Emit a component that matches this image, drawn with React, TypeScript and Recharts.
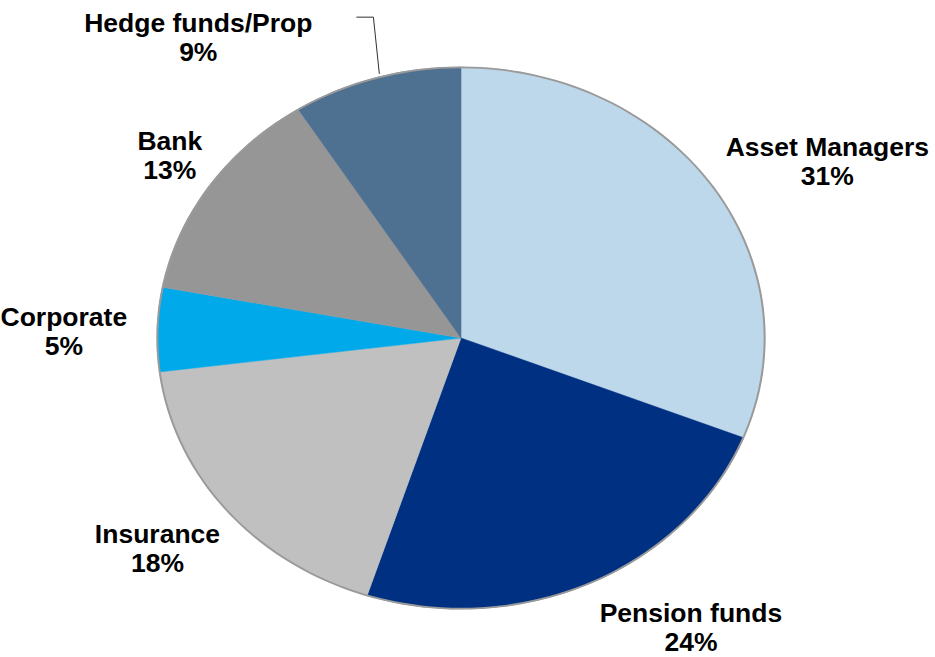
import { PieChart, Pie, Cell } from "recharts";

const categories = [
    "Asset Managers",
    "Pension funds",
    "Insurance",
    "Corporate",
    "Bank",
    "Hedge funds/Prop",
];
const shares = [31, 24, 18, 5, 13, 9];
const colors = ["#BDD7EB", "#003082", "#C0C0C0", "#00A9EA", "#969696", "#4E7091"];

const chartData = categories.map((name, i) => ({
    name,
    value: shares[i],
    color: colors[i],
}));

// pie geometry (excel draws it as an ellipse, we stretch the circle in x)
const CX = 461;
const CY = 338;
const RY = 271;
const RX = 304;
const SCALE_X = RX / RY;

const FONT = "'Liberation Sans', Arial, sans-serif";
const FONT_SIZE = 26.5;
const LINE_GAP = 29;

// hand tweaks so labels land where excel put them
const nudges: [number, number][] = [
    [5, -5],
    [5, 12],
    [1, 15],
    [-20, 3],
    [1, -11],
    [-61, -7],
];

let ctx: CanvasRenderingContext2D | null = null;
function textWidth(s: string) {
    if (!ctx) ctx = document.createElement("canvas").getContext("2d");
    if (!ctx) return s.length * 15;
    ctx.font = `bold ${FONT_SIZE}px ${FONT}`;
    return ctx.measureText(s).width;
}

const renderLabel = (props: any) => {
    const { midAngle, index, name, value } = props;
    const rad = (midAngle * Math.PI) / 180;
    const cos = Math.cos(rad);
    const sin = Math.sin(rad);
    const gap = 10;
    const pct = `${value}%`;
    const halfW = Math.max(textWidth(name), textWidth(pct)) / 2;
    const x = CX + (RX + gap) * cos + Math.sign(cos) * halfW + nudges[index][0];
    const y = CY - (RY + gap) * sin - sin * 25 + nudges[index][1];
    const base = y - 5;

    let leader = null;
    if (index === categories.length - 1) {
        // leader line for the small top slice
        const ex = CX + (RX + 3) * cos + 4;
        const ey = CY - (RY + 3) * sin - 1;
        const ly = y - 20;
        const lx1 = x + halfW + 44;
        const lx2 = x + halfW + 61;
        leader = (
            <polyline
                points={`${lx1},${ly} ${lx2},${ly} ${ex},${ey}`}
                fill="none"
                stroke="#303030"
                strokeWidth={1}
            />
        );
    }

    return (
        <g key={`lbl-${index}`}>
            {leader}
            <text
                x={x}
                y={base}
                textAnchor="middle"
                fontFamily={FONT}
                fontWeight="bold"
                fontSize={FONT_SIZE}
                fill="#000"
            >
                <tspan x={x} y={base}>
                    {name}
                </tspan>
                <tspan x={x} y={base + LINE_GAP}>
                    {pct}
                </tspan>
            </text>
        </g>
    );
};

export default function App() {
    return (
        <div style={{ position: "absolute", left: 0, top: 0 }}>
            <style>{`
                path.recharts-sector {
                    transform-box: view-box;
                    transform-origin: ${CX}px ${CY}px;
                    transform: scaleX(${SCALE_X});
                }
            `}</style>
            <PieChart width={935} height={657} margin={{ top: 0, right: 0, bottom: 0, left: 0 }}>
                <Pie
                    data={chartData}
                    dataKey="value"
                    nameKey="name"
                    cx={CX}
                    cy={CY}
                    outerRadius={RY}
                    startAngle={90}
                    endAngle={-270}
                    labelLine={false}
                    label={renderLabel}
                    isAnimationActive={false}
                >
                    {chartData.map((entry, index) => (
                        <Cell
                            key={`cell-${index}`}
                            fill={entry.color}
                            stroke={entry.color}
                            strokeWidth={0.5}
                        />
                    ))}
                </Pie>
                {/* thin grey outline round the edge */}
                <Pie
                    data={[{ name: "outline", value: 1 }]}
                    dataKey="value"
                    cx={CX}
                    cy={CY}
                    innerRadius={RY - 1.2}
                    outerRadius={RY + 0.6}
                    startAngle={90}
                    endAngle={-270}
                    fill="#9A9A9A"
                    stroke="none"
                    isAnimationActive={false}
                />
            </PieChart>
        </div>
    );
}
